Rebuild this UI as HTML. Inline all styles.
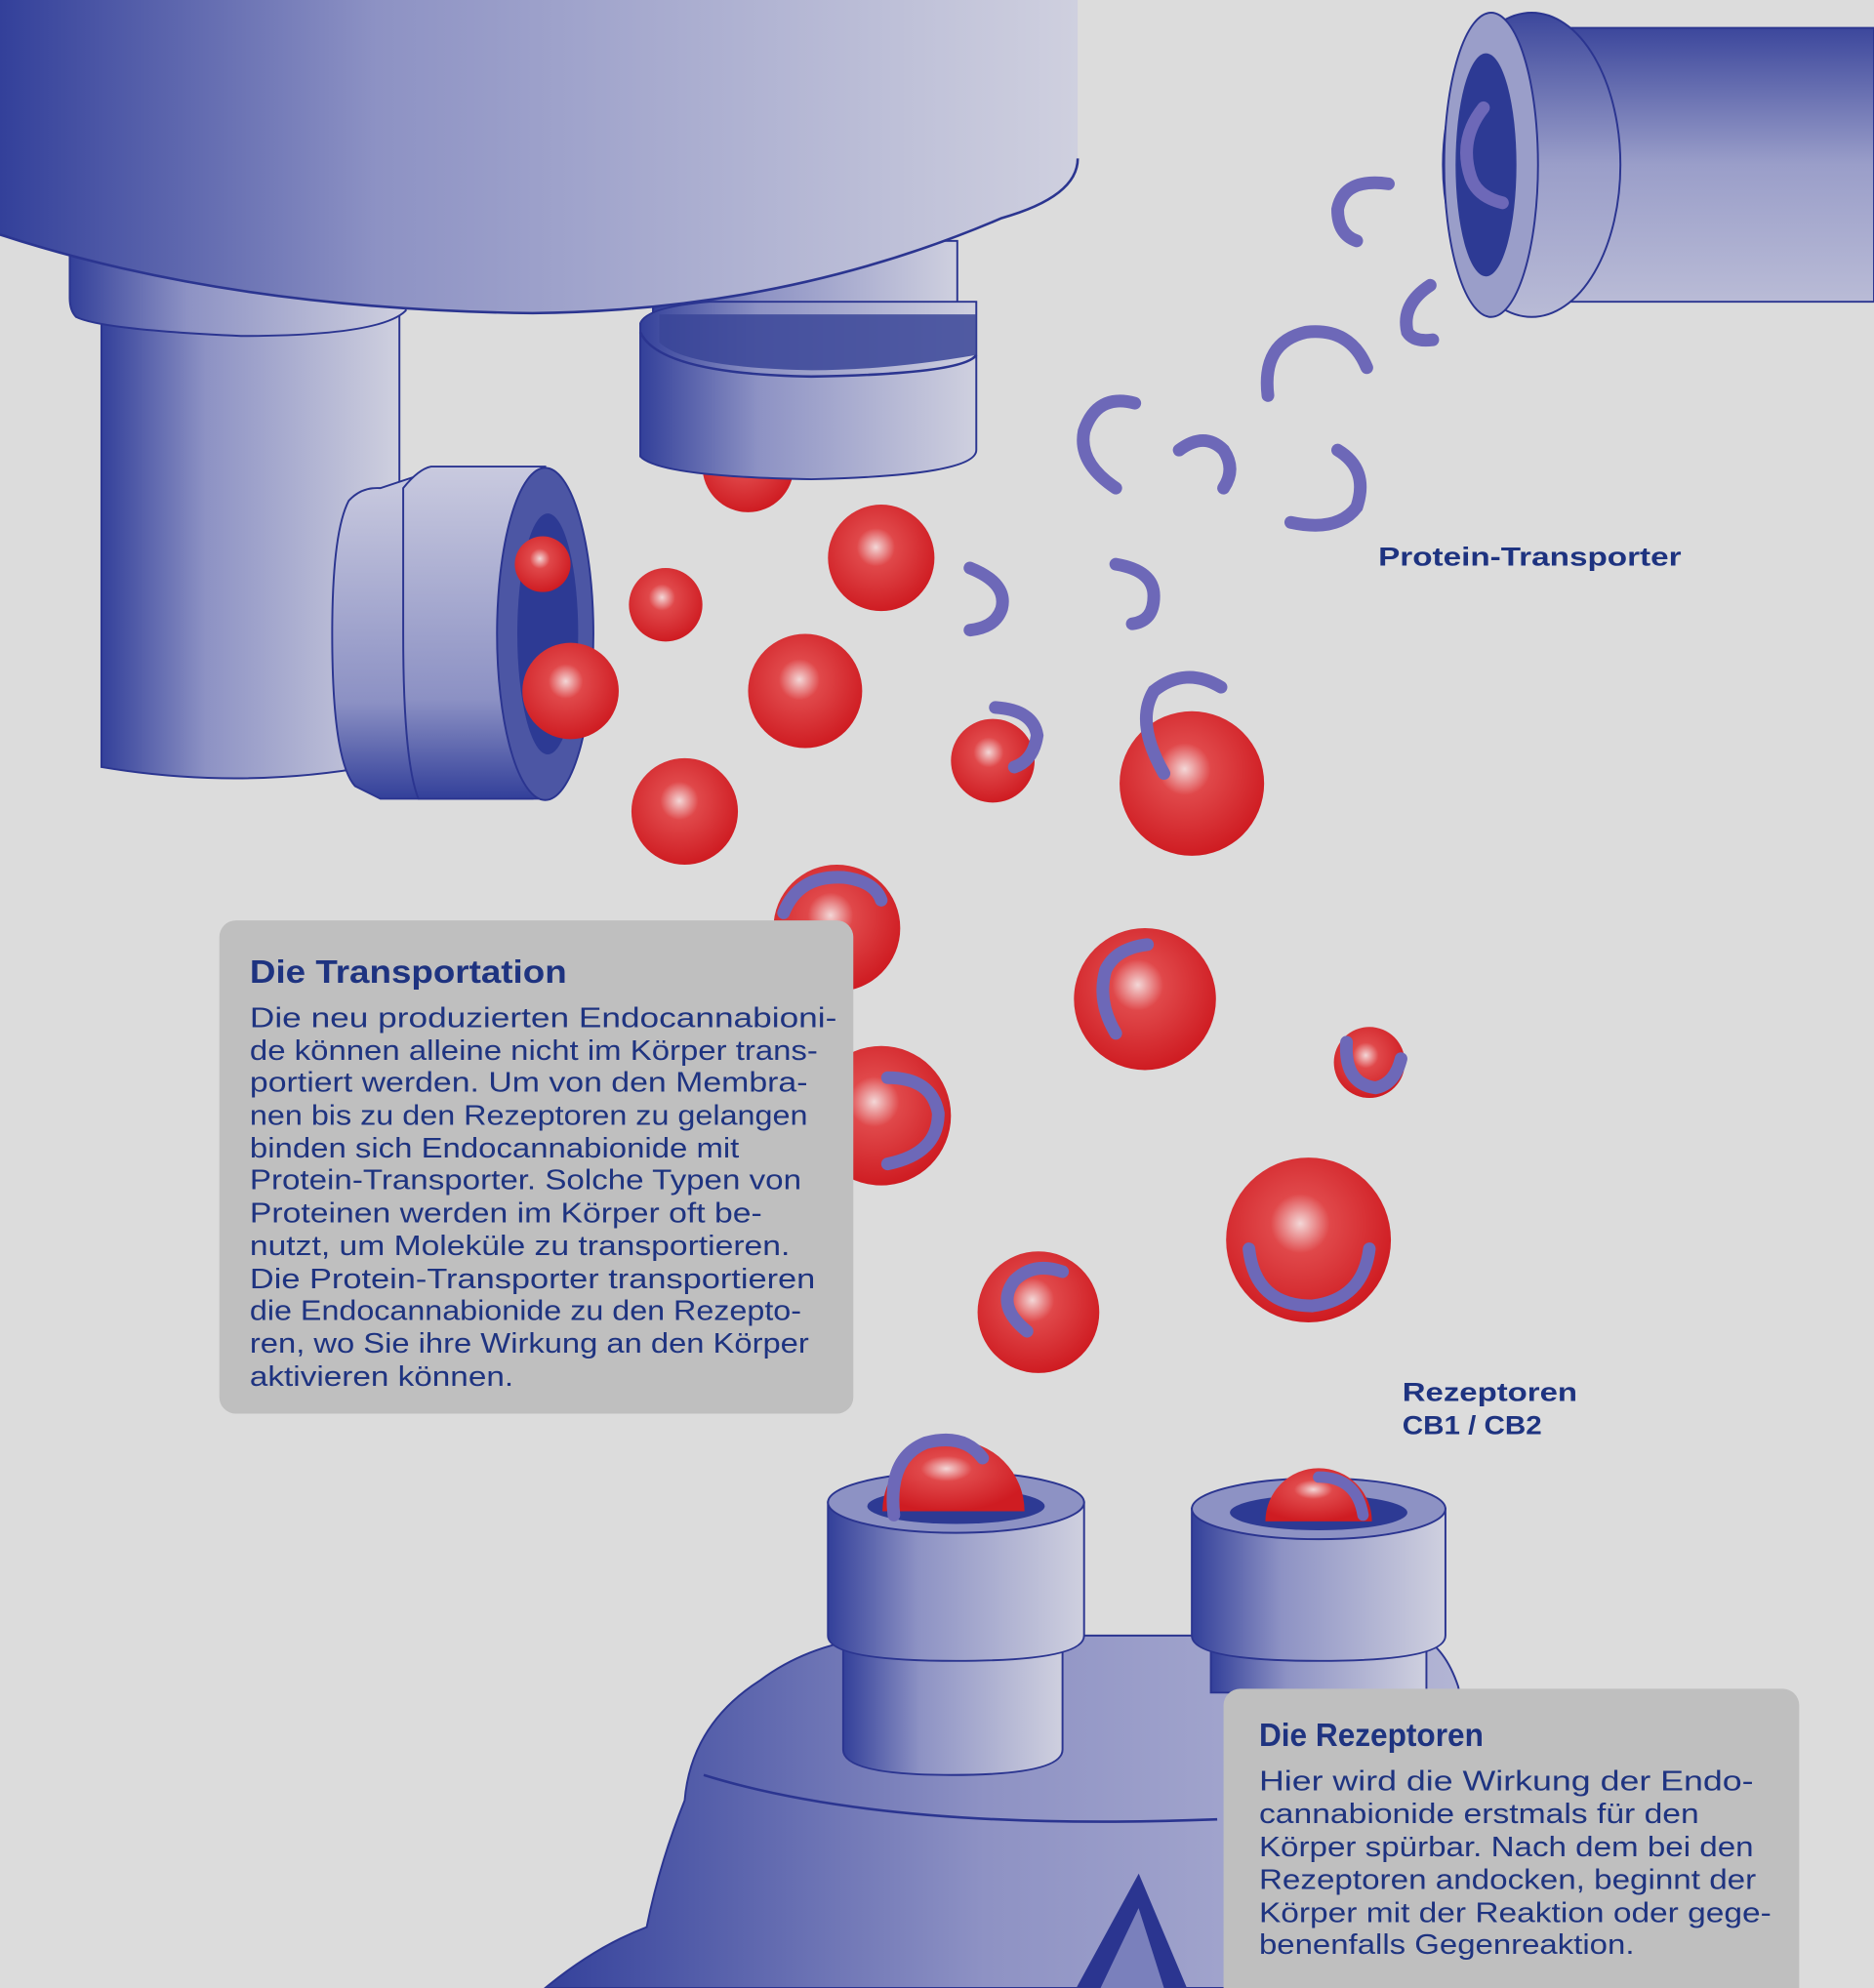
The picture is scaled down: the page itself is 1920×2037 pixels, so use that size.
<!DOCTYPE html>
<html><head><meta charset="utf-8"><style>
html,body{margin:0;padding:0;background:#dcdcdc;}
svg{display:block}
text{font-family:"Liberation Sans",sans-serif;fill:#1e3380}
</style></head><body>
<svg width="1920" height="2037" viewBox="0 0 1478 1568" preserveAspectRatio="none" xmlns="http://www.w3.org/2000/svg">
<defs>
<linearGradient id="cyl" x1="0" x2="1" y1="0" y2="0"><stop offset="0" stop-color="#33409a"/><stop offset="0.35" stop-color="#8d92c4"/><stop offset="1" stop-color="#cfd0df"/></linearGradient>
<linearGradient id="cylv" x1="0" x2="0" y1="0" y2="1"><stop offset="0" stop-color="#c9cadf"/><stop offset="0.7" stop-color="#8c91c4"/><stop offset="1" stop-color="#33409a"/></linearGradient>
<linearGradient id="cylv2" x1="0" x2="0" y1="0" y2="1"><stop offset="0" stop-color="#3c479c"/><stop offset="0.5" stop-color="#9a9ec9"/><stop offset="1" stop-color="#b9bbd6"/></linearGradient>
<linearGradient id="big" x1="0" x2="1" y1="0" y2="0"><stop offset="0" stop-color="#34419b"/><stop offset="0.45" stop-color="#8e92c4"/><stop offset="1" stop-color="#b7b9d6"/></linearGradient>
<radialGradient id="sph" cx="0.45" cy="0.4" r="0.6"><stop offset="0" stop-color="#f3d7d7"/><stop offset="0.3" stop-color="#e0484a"/><stop offset="1" stop-color="#cf1c22"/></radialGradient>
</defs>
<rect width="1478" height="1568" fill="#dcdcdc"/>

<path d="M80,240 H315 V600 Q200,625 80,605 Z" fill="url(#cyl)" stroke="#2b3590" stroke-width="1.5"/>
<path d="M55,195 H320 V245 Q300,265 190,265 Q80,260 60,250 Q55,245 55,235 Z" fill="url(#cyl)" stroke="#2b3590" stroke-width="1.5"/>
<rect x="515" y="190" width="240" height="70" fill="url(#cyl)" stroke="#2b3590" stroke-width="1.5"/>
<circle cx="590" cy="368" r="36" fill="url(#sph)"/>
<path d="M505,255 Q510,242 560,238 H770 V355 Q770,375 640,378 Q520,376 505,360 Z" fill="url(#cyl)" stroke="#2b3590" stroke-width="1.5"/>
<path d="M505,262 Q520,295 640,297 Q760,295 770,280" fill="none" stroke="#2b3590" stroke-width="2"/>
<path d="M520,248 H770 V280 Q700,292 640,292 Q540,290 520,270 Z" fill="#3a4598" opacity="0.85"/>
<path d="M0,0 H850 V125 Q850,155 790,172 Q620,245 420,247 Q180,244 0,185 Z" fill="url(#cyl)"/>
<path d="M850,125 Q850,155 790,172 Q620,245 420,247 Q180,244 0,185" fill="none" stroke="#2b3590" stroke-width="2"/>
<path d="M300,385 Q285,384 275,395 Q262,420 262,500 Q262,600 280,620 L300,630 H420 V375 H330 Z" fill="url(#cylv)" stroke="#2b3590" stroke-width="1.5"/>
<path d="M318,385 Q330,370 340,368 H430 V630 H330 Q318,600 318,500 Z" fill="url(#cylv)" stroke="#2b3590" stroke-width="1.5"/>
<ellipse cx="430" cy="500" rx="38" ry="131" fill="#4c56a4" stroke="#2b3590" stroke-width="1.5"/>
<ellipse cx="432" cy="500" rx="24" ry="95" fill="#2d3a94"/>
<circle cx="428" cy="445" r="22" fill="url(#sph)"/>

<path d="M1175,22 H1478 V238 H1175 Z" fill="url(#cylv2)" stroke="#2b3590" stroke-width="1.5"/>
<ellipse cx="1208" cy="130" rx="70" ry="120" fill="url(#cylv2)" stroke="#2b3590" stroke-width="1.5"/>
<ellipse cx="1176" cy="130" rx="37" ry="120" fill="#9a9ec9" stroke="#2b3590" stroke-width="1.5"/>
<ellipse cx="1172" cy="130" rx="24" ry="88" fill="#2d3a94"/>
<path d="M1170,85 Q1150,110 1160,140 Q1165,155 1185,160" fill="none" stroke="#6d68b8" stroke-width="10" stroke-linecap="round"/>

<g fill="url(#sph)">
<circle cx="525" cy="477" r="29"/>
<circle cx="695" cy="440" r="42"/>
<circle cx="635" cy="545" r="45"/>
<circle cx="450" cy="545" r="38"/>
<circle cx="540" cy="640" r="42"/>
<circle cx="783" cy="600" r="33"/>
<circle cx="940" cy="618" r="57"/>
<circle cx="660" cy="732" r="50"/>
<circle cx="903" cy="788" r="56"/>
<circle cx="695" cy="880" r="55"/>
<circle cx="1080" cy="838" r="28"/>
<circle cx="1032" cy="978" r="65"/>
<circle cx="819" cy="1035" r="48"/>
</g>
<g fill="none" stroke="#6d68b8" stroke-width="10" stroke-linecap="round">
<path d="M1095,145 Q1060,140 1055,165 Q1055,185 1070,190"/>
<path d="M1128,225 Q1105,240 1110,262 Q1115,270 1130,268"/>
<path d="M1000,312 Q995,270 1030,262 Q1065,258 1078,290"/>
<path d="M880,385 Q850,365 855,340 Q865,310 895,318"/>
<path d="M930,355 Q950,340 965,355 Q975,370 965,385"/>
<path d="M1055,355 Q1080,370 1070,400 Q1055,420 1018,412"/>
<path d="M765,448 Q795,460 790,480 Q785,495 765,497"/>
<path d="M880,445 Q910,450 910,470 Q910,490 893,492"/>
<path d="M785,558 Q815,560 818,580 Q815,600 800,605"/>
<path d="M963,542 Q935,525 910,545 Q895,570 918,610"/>
<path d="M618,720 Q630,690 665,692 Q690,695 695,710"/>
<path d="M880,815 Q865,790 872,765 Q880,748 905,745"/>
<path d="M700,850 Q735,850 740,878 Q740,910 700,918"/>
<path d="M1062,822 Q1060,855 1085,858 Q1100,855 1105,835"/>
<path d="M985,985 Q990,1030 1035,1030 Q1075,1025 1080,985"/>
<path d="M810,1050 Q785,1030 800,1010 Q815,995 838,1003"/>
</g>

<path d="M430,1568 Q470,1535 510,1520 Q520,1470 540,1420 Q545,1360 600,1325 Q640,1295 700,1290 H1120 Q1140,1300 1150,1330 L1200,1568 Z" fill="url(#big)" stroke="#2b3590" stroke-width="1.5"/>
<path d="M555,1400 Q700,1445 960,1435" fill="none" stroke="#2b3590" stroke-width="2"/>
<path d="M850,1568 L898,1480 L935,1568" fill="#2b3590" stroke="#2b3590" stroke-width="2"/>
<path d="M868,1568 L898,1505 L918,1568 Z" fill="#7a80bc"/>
<path d="M665,1280 H838 V1380 Q838,1400 750,1400 Q665,1400 665,1380 Z" fill="url(#cyl)" stroke="#2b3590" stroke-width="1.5"/>
<path d="M653,1185 H855 V1290 Q855,1310 754,1310 Q653,1310 653,1290 Z" fill="url(#cyl)" stroke="#2b3590" stroke-width="1.5"/>
<ellipse cx="754" cy="1185" rx="101" ry="24" fill="#8d92c4" stroke="#2b3590" stroke-width="1.5"/>
<ellipse cx="754" cy="1188" rx="70" ry="14" fill="#2d3a94"/>
<path d="M696,1192 A56,56 0 1 1 808,1192 Z" fill="url(#sph)"/>
<path d="M705,1195 Q700,1150 730,1138 Q760,1130 775,1150" fill="none" stroke="#6d68b8" stroke-width="10" stroke-linecap="round"/>
<path d="M955,1280 H1125 V1335 H955 Z" fill="url(#cyl)" stroke="#2b3590" stroke-width="1.5"/>
<path d="M940,1190 H1140 V1290 Q1140,1310 1040,1310 Q940,1310 940,1290 Z" fill="url(#cyl)" stroke="#2b3590" stroke-width="1.5"/>
<ellipse cx="1040" cy="1190" rx="100" ry="24" fill="#8d92c4" stroke="#2b3590" stroke-width="1.5"/>
<ellipse cx="1040" cy="1193" rx="70" ry="14" fill="#2d3a94"/>
<path d="M998,1200 A42,42 0 1 1 1082,1200 Z" fill="url(#sph)"/>
<path d="M1040,1165 Q1070,1165 1075,1195" fill="none" stroke="#6d68b8" stroke-width="9" stroke-linecap="round"/>

<g lengthAdjust="spacingAndGlyphs">
<text x="1087" y="446" font-size="21" font-weight="bold" textLength="239" lengthAdjust="spacingAndGlyphs">Protein-Transporter</text>
<text x="1106" y="1105" font-size="21" font-weight="bold" textLength="138" lengthAdjust="spacingAndGlyphs">Rezeptoren</text>
<text x="1106" y="1131" font-size="21" font-weight="bold" textLength="110" lengthAdjust="spacingAndGlyphs">CB1 / CB2</text>
</g>

<rect x="173" y="726" width="500" height="389" rx="13" fill="#bfbfbf"/>
<text x="197" y="775" font-size="26" font-weight="bold" textLength="250" lengthAdjust="spacingAndGlyphs">Die Transportation</text>
<g font-size="22">
<text x="197" y="810" textLength="463" lengthAdjust="spacingAndGlyphs">Die neu produzierten Endocannabioni-</text>
<text x="197" y="836" textLength="448" lengthAdjust="spacingAndGlyphs">de können alleine nicht im Körper trans-</text>
<text x="197" y="861" textLength="440" lengthAdjust="spacingAndGlyphs">portiert werden. Um von den Membra-</text>
<text x="197" y="887" textLength="440" lengthAdjust="spacingAndGlyphs">nen bis zu den Rezeptoren zu gelangen</text>
<text x="197" y="913" textLength="386" lengthAdjust="spacingAndGlyphs">binden sich Endocannabionide mit</text>
<text x="197" y="938" textLength="435" lengthAdjust="spacingAndGlyphs">Protein-Transporter. Solche Typen von</text>
<text x="197" y="964" textLength="404" lengthAdjust="spacingAndGlyphs">Proteinen werden im Körper oft be-</text>
<text x="197" y="990" textLength="426" lengthAdjust="spacingAndGlyphs">nutzt, um Moleküle zu transportieren.</text>
<text x="197" y="1016" textLength="446" lengthAdjust="spacingAndGlyphs">Die Protein-Transporter transportieren</text>
<text x="197" y="1041" textLength="435" lengthAdjust="spacingAndGlyphs">die Endocannabionide zu den Rezepto-</text>
<text x="197" y="1067" textLength="441" lengthAdjust="spacingAndGlyphs">ren, wo Sie ihre Wirkung an den Körper</text>
<text x="197" y="1093" textLength="208" lengthAdjust="spacingAndGlyphs">aktivieren können.</text>
</g>
<rect x="965" y="1332" width="454" height="250" rx="13" fill="#bfbfbf"/>
<text x="993" y="1377" font-size="26" font-weight="bold" textLength="177" lengthAdjust="spacingAndGlyphs">Die Rezeptoren</text>
<g font-size="22">
<text x="993" y="1412" textLength="390" lengthAdjust="spacingAndGlyphs">Hier wird die Wirkung der Endo-</text>
<text x="993" y="1438" textLength="347" lengthAdjust="spacingAndGlyphs">cannabionide erstmals für den</text>
<text x="993" y="1464" textLength="390" lengthAdjust="spacingAndGlyphs">Körper spürbar. Nach dem bei den</text>
<text x="993" y="1490" textLength="392" lengthAdjust="spacingAndGlyphs">Rezeptoren andocken, beginnt der</text>
<text x="993" y="1516" textLength="404" lengthAdjust="spacingAndGlyphs">Körper mit der Reaktion oder gege-</text>
<text x="993" y="1541" textLength="296" lengthAdjust="spacingAndGlyphs">benenfalls Gegenreaktion.</text>
</g>
</svg>
</body></html>
